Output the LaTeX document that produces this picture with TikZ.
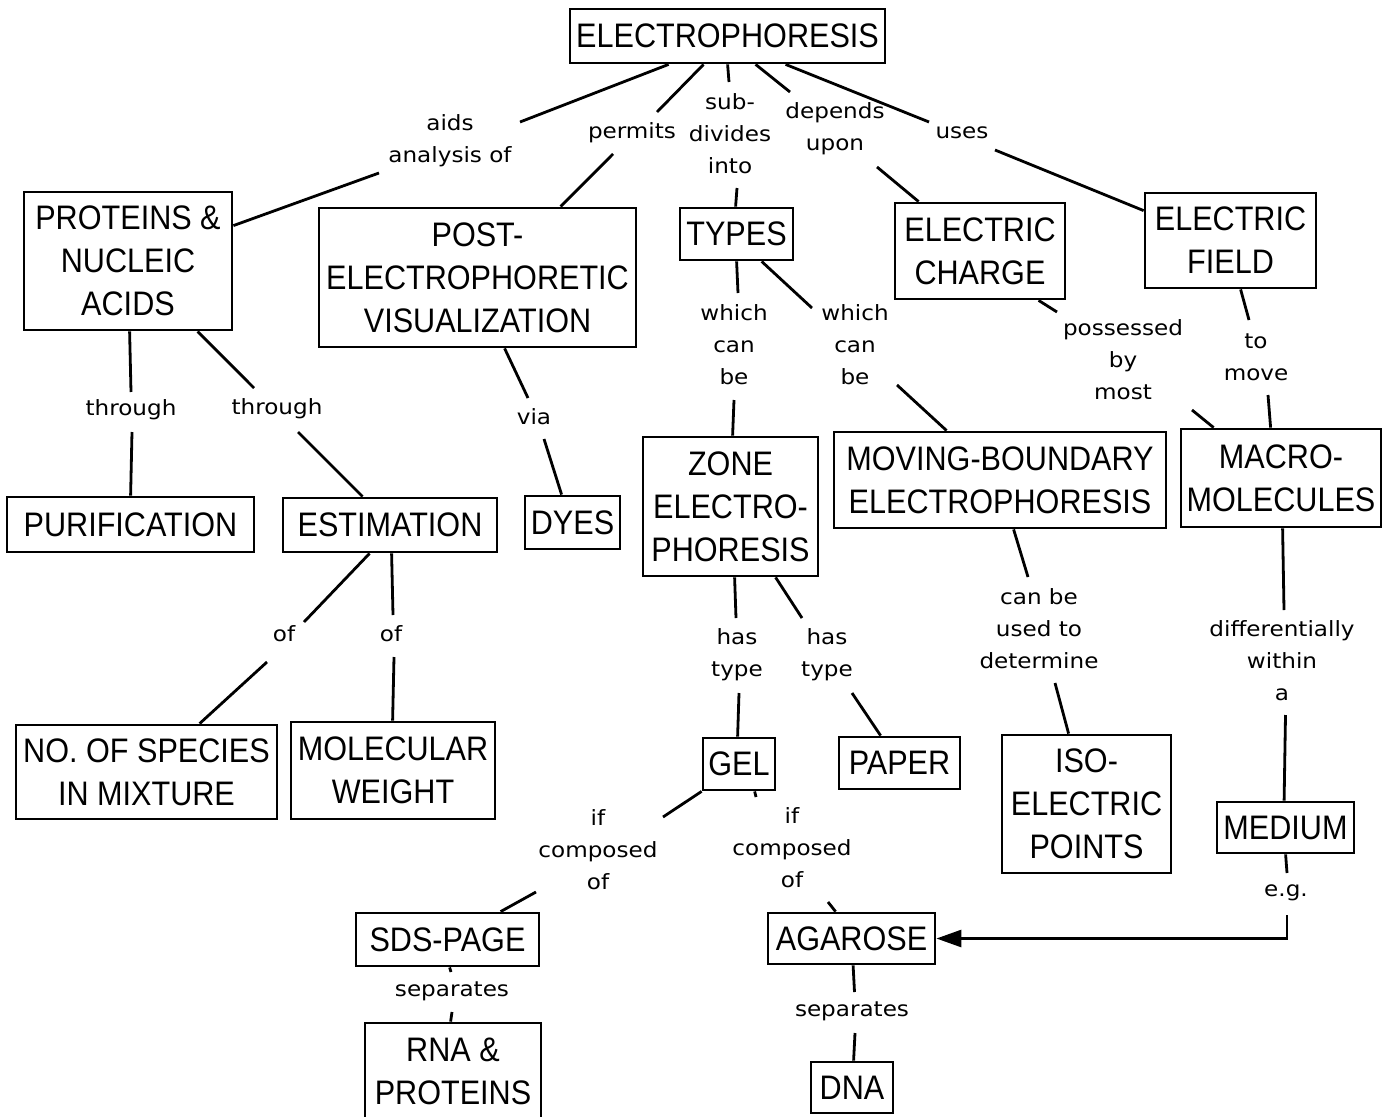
\documentclass[tikz,border=0pt]{standalone}
\usepackage{fontspec}
\newfontfamily\boxfont[FakeStretch=0.9]{Liberation Sans}
\newfontfamily\labfont[FakeStretch=1.1]{DejaVu Sans}
\usetikzlibrary{arrows.meta}
\begin{document}
\begin{tikzpicture}[x=1pt,y=-1pt,
  box/.style={draw, line width=2.8pt, inner sep=0pt, align=center,
    font={\boxfont\fontsize{34}{43}\selectfont}},
  lab/.style={inner sep=0pt, align=center,
    font={\labfont\fontsize{21}{32}\selectfont}},
  conn/.style={line width=2.8pt}]
\fill[white] (0,0) rectangle (1391,1116);
\useasboundingbox (0,0) rectangle (1391,1116);

% boxes
\node[box, minimum width=315pt, minimum height=54pt] (elec) at (727.5,36) {ELECTROPHORESIS};
\node[box, minimum width=208pt, minimum height=138pt] (prot) at (128,261) {PROTEINS \&\\NUCLEIC\\ACIDS};
\node[box, minimum width=317pt, minimum height=139pt] (post) at (477.5,277.5) {POST-\\ELECTROPHORETIC\\VISUALIZATION};
\node[box, minimum width=113pt, minimum height=52pt] (types) at (736.5,234) {TYPES};
\node[box, minimum width=170pt, minimum height=96pt] (charge) at (980,251) {ELECTRIC\\CHARGE};
\node[box, minimum width=171pt, minimum height=95pt] (field) at (1230.5,240.5) {ELECTRIC\\FIELD};
\node[box, minimum width=247pt, minimum height=55pt] (purif) at (130.5,524.5) {PURIFICATION};
\node[box, minimum width=214pt, minimum height=54pt] (est) at (390,525) {ESTIMATION};
\node[box, minimum width=95pt, minimum height=53pt] (dyes) at (572.5,522.5) {DYES};
\node[box, minimum width=175pt, minimum height=139pt] (zone) at (730.5,506.5) {ZONE\\ELECTRO-\\PHORESIS};
\node[box, minimum width=332pt, minimum height=96pt] (mb) at (1000,480) {MOVING-BOUNDARY\\ELECTROPHORESIS};
\node[box, minimum width=200pt, minimum height=98pt] (macro) at (1281,478) {MACRO-\\MOLECULES};
\node[box, minimum width=261pt, minimum height=94pt] (species) at (146.5,772) {NO. OF SPECIES\\IN MIXTURE};
\node[box, minimum width=204pt, minimum height=97pt] (molw) at (393,770.5) {MOLECULAR\\WEIGHT};
\node[box, minimum width=72pt, minimum height=52pt] (gel) at (739,764) {GEL};
\node[box, minimum width=121pt, minimum height=52pt] (paper) at (899.5,763) {PAPER};
\node[box, minimum width=169pt, minimum height=138pt] (iso) at (1086.5,804) {ISO-\\ELECTRIC\\POINTS};
\node[box, minimum width=137pt, minimum height=51pt] (medium) at (1285.5,827.5) {MEDIUM};
\node[box, minimum width=183pt, minimum height=53pt] (sds) at (447.5,939.5) {SDS-PAGE};
\node[box, minimum width=167pt, minimum height=51pt] (agar) at (851.5,938.5) {AGAROSE};
\node[box, minimum width=176pt, minimum height=97pt] (rna) at (453,1071.5) {RNA \&\\PROTEINS};
\node[box, minimum width=82pt, minimum height=51pt] (dna) at (852,1087.5) {DNA};

% labels
\node[lab] (laids) at (450,141) {aids\\analysis of};
\node[lab] (lpermits) at (632,133) {permits};
\node[lab] (lsub) at (730,134) {sub-\\divides\\into};
\node[lab] (ldep) at (835,129) {depends\\upon};
\node[lab] (luses) at (962,133) {uses};
\node[lab] (lthr1) at (131,410) {through};
\node[lab] (lthr2) at (277,409) {through};
\node[lab] (lvia) at (534,417) {via};
\node[lab] (lwcb1) at (734,345) {which\\can\\be};
\node[lab] (lwcb2) at (855,345) {which\\can\\be};
\node[lab] (lposs) at (1123,360) {possessed\\by\\most};
\node[lab] (lmove) at (1256,357) {to\\move};
\node[lab] (lof1) at (284,634) {of};
\node[lab] (lof2) at (391,634) {of};
\node[lab] (lht1) at (737,655) {has\\type};
\node[lab] (lht2) at (827,655) {has\\type};
\node[lab] (lcbu) at (1039,629) {can be\\used to\\determine};
\node[lab] (ldiff) at (1282,661) {differentially\\within\\a};
\node[lab] (lif1) at (598,850) {if\\composed\\of};
\node[lab] (lif2) at (792,848) {if\\composed\\of};
\node[lab] (leg) at (1286,893) {e.g.};
\node[lab] (lsep1) at (452,991) {separates};
\node[lab] (lsep2) at (852,1011) {separates};

% free ends of connectors
\coordinate (c1) at (520,122);   \coordinate (c2) at (379,173);
\coordinate (c3) at (657,112);   \coordinate (c4) at (613,154);
\coordinate (c5) at (729,82);    \coordinate (c6) at (737,188);
\coordinate (c7) at (790,92);    \coordinate (c8) at (877,167);
\coordinate (c9) at (929,122);   \coordinate (c10) at (995,150);
\coordinate (c11) at (1057,312); \coordinate (c12) at (1192,410);
\coordinate (c13) at (1249,320); \coordinate (c14) at (1268,395);
\coordinate (c15) at (738,293);  \coordinate (c16) at (734,400);
\coordinate (c17) at (812,308);  \coordinate (c18) at (897,385);
\coordinate (c19) at (131,392);  \coordinate (c20) at (132,432);
\coordinate (c21) at (254,388);  \coordinate (c22) at (298,432);
\coordinate (c23) at (528,398);  \coordinate (c24) at (544,439);
\coordinate (c25) at (304,622);  \coordinate (c26) at (267,662);
\coordinate (c27) at (393,615);  \coordinate (c28) at (394,657);
\coordinate (c29) at (736,618);  \coordinate (c30) at (739,693);
\coordinate (c31) at (802,618);  \coordinate (c32) at (852,693);
\coordinate (c33) at (1028,577); \coordinate (c34) at (1055,683);
\coordinate (c35) at (1284,610); \coordinate (c36) at (1285.5,715);
\coordinate (c37) at (1287,873); \coordinate (c38) at (1287,915);
\coordinate (c39) at (663,817);  \coordinate (c40) at (536,892);
\coordinate (c41) at (756,797);  \coordinate (c42) at (828,902);
\coordinate (c43) at (451,972);  \coordinate (c44) at (452,1012);
\coordinate (c45) at (854.5,992);\coordinate (c46) at (855,1033);

% connectors
\draw[conn] ([shift={(100,0)}]elec.south west) -- (c1);
\draw[conn] (c2) -- ([shift={(0,35)}]prot.north east);
\draw[conn] ([shift={(135,0)}]elec.south west) -- (c3);
\draw[conn] (c4) -- ([shift={(243,0)}]post.north west);
\draw[conn] ([shift={(159,0)}]elec.south west) -- (c5);
\draw[conn] (c6) -- ([shift={(57,0)}]types.north west);
\draw[conn] ([shift={(187,0)}]elec.south west) -- (c7);
\draw[conn] (c8) -- ([shift={(25,0)}]charge.north west);
\draw[conn] ([shift={(217,0)}]elec.south west) -- (c9);
\draw[conn] (c10) -- ([shift={(0,19)}]field.north west);
\draw[conn] ([shift={(145,0)}]charge.south west) -- (c11);
\draw[conn] (c12) -- ([shift={(34,0)}]macro.north west);
\draw[conn] ([shift={(97,0)}]field.south west) -- (c13);
\draw[conn] (c14) -- ([shift={(91,0)}]macro.north west);
\draw[conn] ([shift={(58,0)}]types.south west) -- (c15);
\draw[conn] (c16) -- ([shift={(91,0)}]zone.north west);
\draw[conn] ([shift={(83,0)}]types.south west) -- (c17);
\draw[conn] (c18) -- ([shift={(114,0)}]mb.north west);
\draw[conn] ([shift={(107,0)}]prot.south west) -- (c19);
\draw[conn] (c20) -- ([shift={(125,0)}]purif.north west);
\draw[conn] ([shift={(175,0)}]prot.south west) -- (c21);
\draw[conn] (c22) -- ([shift={(81,0)}]est.north west);
\draw[conn] ([shift={(187,0)}]post.south west) -- (c23);
\draw[conn] (c24) -- ([shift={(38,0)}]dyes.north west);
\draw[conn] ([shift={(88,0)}]est.south west) -- (c25);
\draw[conn] (c26) -- ([shift={(185,0)}]species.north west);
\draw[conn] ([shift={(110,0)}]est.south west) -- (c27);
\draw[conn] (c28) -- ([shift={(103,0)}]molw.north west);
\draw[conn] ([shift={(93,0)}]zone.south west) -- (c29);
\draw[conn] (c30) -- ([shift={(36,0)}]gel.north west);
\draw[conn] ([shift={(134,0)}]zone.south west) -- (c31);
\draw[conn] (c32) -- ([shift={(43,0)}]paper.north west);
\draw[conn] ([shift={(181,0)}]mb.south west) -- (c33);
\draw[conn] (c34) -- ([shift={(68,0)}]iso.north west);
\draw[conn] ([shift={(103,0)}]macro.south west) -- (c35);
\draw[conn] (c36) -- ([shift={(68.5,0)}]medium.north west);
\draw[conn] ([shift={(70,0)}]medium.south west) -- (c37);
\draw[conn, -{Triangle[length=25pt,width=17pt]}] (c38) |- (agar.east);
\draw[conn] (gel.south west) -- (c39);
\draw[conn] (c40) -- ([shift={(146,0)}]sds.north west);
\draw[conn] ([shift={(53,0)}]gel.south west) -- (c41);
\draw[conn] (c42) -- ([shift={(69,0)}]agar.north west);
\draw[conn] ([shift={(95,0)}]sds.south west) -- (c43);
\draw[conn] (c44) -- ([shift={(87,0)}]rna.north west);
\draw[conn] ([shift={(86.5,0)}]agar.south west) -- (c45);
\draw[conn] (c46) -- ([shift={(44,0)}]dna.north west);
\end{tikzpicture}
\end{document}
